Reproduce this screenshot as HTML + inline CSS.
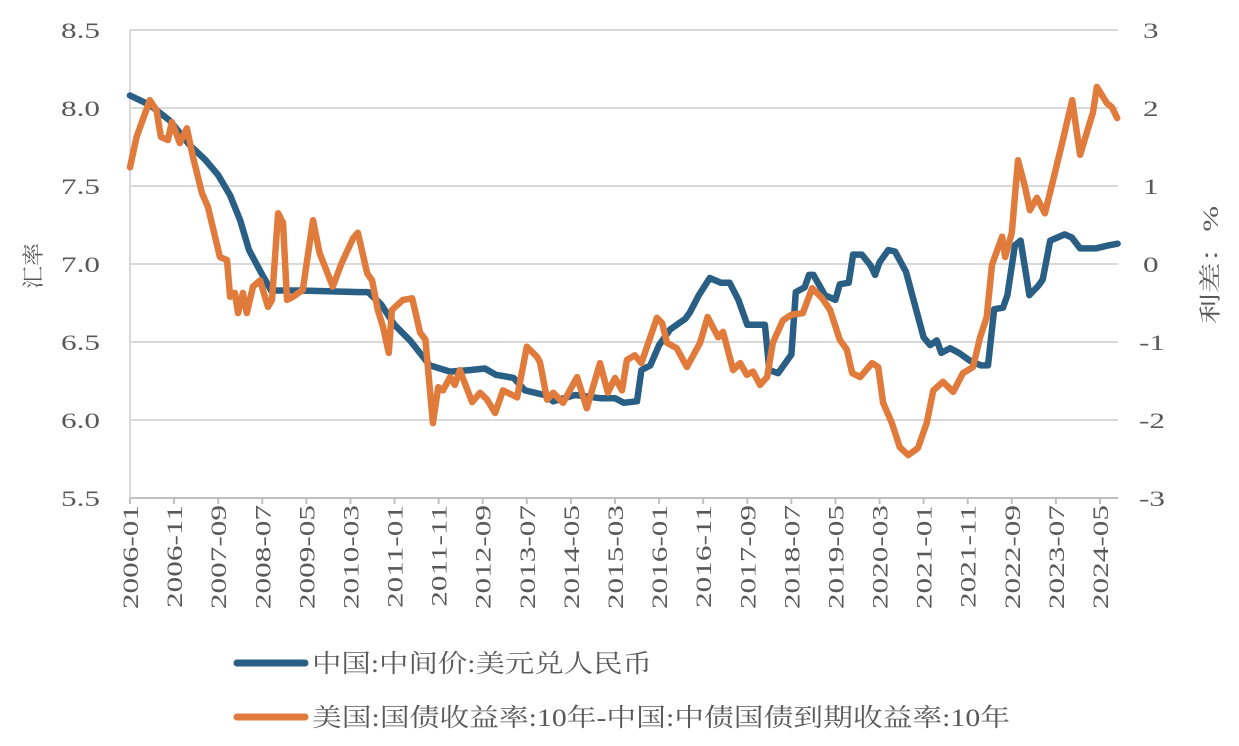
<!DOCTYPE html>
<html><head><meta charset="utf-8"><style>
body{margin:0;background:#fff;}
svg text{font-family:"Liberation Serif","Noto Serif CJK SC",serif;fill:#595959;}
</style></head><body>
<svg id="chart" width="1239" height="741" viewBox="0 0 1239 741" xmlns="http://www.w3.org/2000/svg">
<g id="grid"></g>
<g id="yl"></g>
<g id="yr"></g>
<g id="xa"></g>
<g id="series"></g>
<text transform="translate(41,266) rotate(-90)" text-anchor="middle" font-size="22" textLength="46" lengthAdjust="spacingAndGlyphs">汇率</text>
<text transform="translate(1218,265) rotate(-90)" text-anchor="middle" font-size="22" textLength="118" lengthAdjust="spacingAndGlyphs">利差：%</text>
<g>
<line x1="237" y1="663" x2="305" y2="663" stroke="#2a5f85" stroke-width="7" stroke-linecap="round"/>
<text x="312" y="672" font-size="25" textLength="340" lengthAdjust="spacingAndGlyphs">中国:中间价:美元兑人民币</text>
<line x1="237" y1="717" x2="305" y2="717" stroke="#e07b3c" stroke-width="7" stroke-linecap="round"/>
<text x="312" y="726" font-size="25" textLength="698" lengthAdjust="spacingAndGlyphs">美国:国债收益率:10年-中国:中债国债到期收益率:10年</text>
</g>
</svg>
<script>
const xTickLabels=["2006-01","2006-11","2007-09","2008-07","2009-05","2010-03","2011-01","2011-11","2012-09","2013-07","2014-05","2015-03","2016-01","2016-11","2017-09","2018-07","2019-05","2020-03","2021-01","2021-11","2022-09","2023-07","2024-05"];
const leftTicks=[5.5,6.0,6.5,7.0,7.5,8.0,8.5];
const rightTicks=[-3,-2,-1,0,1,2,3];
// months since 2006-01
const rateMonths=[0,4.5,9,13.6,17,20,22.7,25,27,30,32,38.5,52,54,57,60,63.5,68,72.6,77,80.5,83,87,89.6,94,96,101,106.6,110,112,115,116,118,120,122.5,126,127,129,131.5,134,136,138,140,141.7,144,145,147,150,151,153,154,155,157.6,160,161,163,164,166,168,169,170,172,173.5,176,178,180,181.5,183,184,186,188,190.5,193,194.6,196,198,199,200.7,202,204,206,207,208.7,212,213.6,215.5,219,222,224];
const rateValues=[8.08,8.02,7.92,7.76,7.67,7.57,7.44,7.28,7.09,6.93,6.83,6.83,6.82,6.82,6.74,6.61,6.51,6.35,6.31,6.32,6.33,6.29,6.27,6.19,6.16,6.12,6.16,6.14,6.14,6.11,6.12,6.32,6.35,6.48,6.58,6.65,6.69,6.80,6.91,6.88,6.88,6.77,6.61,6.61,6.61,6.32,6.30,6.42,6.82,6.85,6.93,6.93,6.80,6.77,6.87,6.88,7.06,7.06,6.99,6.93,7.01,7.09,7.08,6.95,6.74,6.53,6.48,6.51,6.43,6.46,6.43,6.38,6.35,6.35,6.71,6.72,6.80,7.12,7.15,6.80,6.86,6.90,7.15,7.19,7.17,7.10,7.10,7.12,7.13];
const spreadMonths=[0,1.5,4.5,6,7,8.6,9.5,11.3,12.9,14.3,16.3,17.7,20.4,22,22.7,23.8,24.5,25.6,26.5,27.9,29.5,31.3,32.2,33.6,34.7,35.6,37,39.2,41.5,43,46,48,50.6,51.7,53.8,54.9,56.2,57.4,58.7,59.4,61.9,64,65.8,67,68.7,69.9,71,72.6,73.7,74.8,77.6,79.4,81,82.8,84.6,87.8,90,92.3,93,94.6,96,98.2,101.4,103.6,106.6,108.4,110,111.6,112.7,114.5,116,119.5,120.7,121.8,124,126.3,129.3,131,133.4,134.5,136.8,138.4,139.9,141.3,142.9,144.5,145.8,148.1,150,152.6,154.7,157,158.8,161,162.6,163.8,165.6,168.3,169.7,170.8,172.8,174.6,176.5,178.7,180.7,182.2,184.4,186.7,188.9,191.2,192.8,194.3,195.5,197.8,198.5,200,201.4,203,204.1,205.7,207.5,209.4,211.4,213.7,215.5,217.7,218.4,219.3,221.6,222.7,223.9];
const spreadValues=[1.24,1.63,2.10,1.97,1.63,1.59,1.82,1.55,1.74,1.37,0.91,0.73,0.09,0.05,-0.42,-0.37,-0.63,-0.37,-0.63,-0.29,-0.21,-0.55,-0.46,0.65,0.53,-0.46,-0.42,-0.33,0.56,0.14,-0.29,0.01,0.33,0.40,-0.12,-0.21,-0.59,-0.81,-1.14,-0.59,-0.46,-0.44,-0.88,-0.97,-2.04,-1.58,-1.62,-1.45,-1.55,-1.36,-1.77,-1.65,-1.74,-1.91,-1.62,-1.71,-1.06,-1.19,-1.26,-1.74,-1.65,-1.78,-1.45,-1.85,-1.27,-1.65,-1.46,-1.62,-1.23,-1.17,-1.27,-0.69,-0.76,-1.01,-1.08,-1.32,-1.01,-0.68,-0.94,-0.87,-1.36,-1.27,-1.42,-1.38,-1.55,-1.45,-1.01,-0.72,-0.65,-0.63,-0.31,-0.44,-0.59,-0.97,-1.10,-1.40,-1.45,-1.27,-1.32,-1.78,-2.04,-2.35,-2.45,-2.36,-2.04,-1.62,-1.51,-1.64,-1.40,-1.32,-0.94,-0.68,-0.01,0.35,0.09,0.40,1.33,0.99,0.69,0.85,0.65,1.08,1.55,2.10,1.40,1.81,1.94,2.27,2.06,2.01,1.87];

const NS="http://www.w3.org/2000/svg";
const X0=130,PXM=4.409,TOP=30,BOT=498,WIDEN=1.42;
const xs=m=>X0+m*PXM;
const yL=v=>TOP+(8.5-v)/3*(BOT-TOP);
const yR=v=>TOP+(3-v)/6*(BOT-TOP);
function mk(tag,parent){const e=document.createElementNS(NS,tag);parent.appendChild(e);return e;}
function widen(t){const w=t.getComputedTextLength();t.setAttribute('textLength',(w*WIDEN).toFixed(1));t.setAttribute('lengthAdjust','spacingAndGlyphs');}
const grid=document.getElementById('grid'),yl=document.getElementById('yl'),yr=document.getElementById('yr'),xa=document.getElementById('xa'),ser=document.getElementById('series');
leftTicks.forEach((v,i)=>{
  const l=mk('line',grid);
  
  
  l.setAttribute('x1',X0);l.setAttribute('x2',1118);l.setAttribute('y1',yL(v));l.setAttribute('y2',yL(v));
  l.setAttribute('stroke',i===0?'#bfbfbf':'#d9d9d9');l.setAttribute('stroke-width','2');
  const t=mk('text',yl);
  
  
  t.setAttribute('x',100);t.setAttribute('y',yL(v)+8);t.setAttribute('text-anchor','end');t.setAttribute('font-size','22');
  t.textContent=v.toFixed(1);
  widen(t);
});
rightTicks.forEach(v=>{
  const t=mk('text',yr);
  
  
  t.setAttribute('x',v<0?1139:1143);t.setAttribute('y',yR(v)+8);t.setAttribute('font-size','22');
  t.textContent=String(v);
  widen(t);
});
const ax=mk('line',grid);


ax.setAttribute('x1',X0);ax.setAttribute('x2',X0);ax.setAttribute('y1',TOP);ax.setAttribute('y2',BOT);ax.setAttribute('stroke','#d9d9d9');ax.setAttribute('stroke-width','2');
xTickLabels.forEach((s,i)=>{
  const x=xs(i*10);
  const tk=mk('line',xa);
  
  
  tk.setAttribute('x1',x);tk.setAttribute('x2',x);tk.setAttribute('y1',BOT);tk.setAttribute('y2',BOT+6);tk.setAttribute('stroke','#bfbfbf');tk.setAttribute('stroke-width','2');
  const t=mk('text',xa);
  
  
  t.setAttribute('transform','translate('+(x+8)+','+(BOT+7)+') rotate(-90)');
  t.setAttribute('text-anchor','end');t.setAttribute('font-size','22');
  t.textContent=s;
  widen(t);
});
function line(ms,vs,yf,color,name){
  const p=mk('path',ser);
  
  
  p.setAttribute('d',ms.map((m,i)=>(i?'L':'M')+xs(m).toFixed(1)+','+yf(vs[i]).toFixed(1)).join(''));
  p.setAttribute('fill','none');p.setAttribute('stroke',color);p.setAttribute('stroke-width','6.5');p.setAttribute('stroke-linejoin','round');p.setAttribute('stroke-linecap','round');
}
line(rateMonths,rateValues,yL,'#2a5f85','cny-rate-line');
line(spreadMonths,spreadValues,yR,'#e07b3c','yield-spread-line');
</script>
</body></html>
